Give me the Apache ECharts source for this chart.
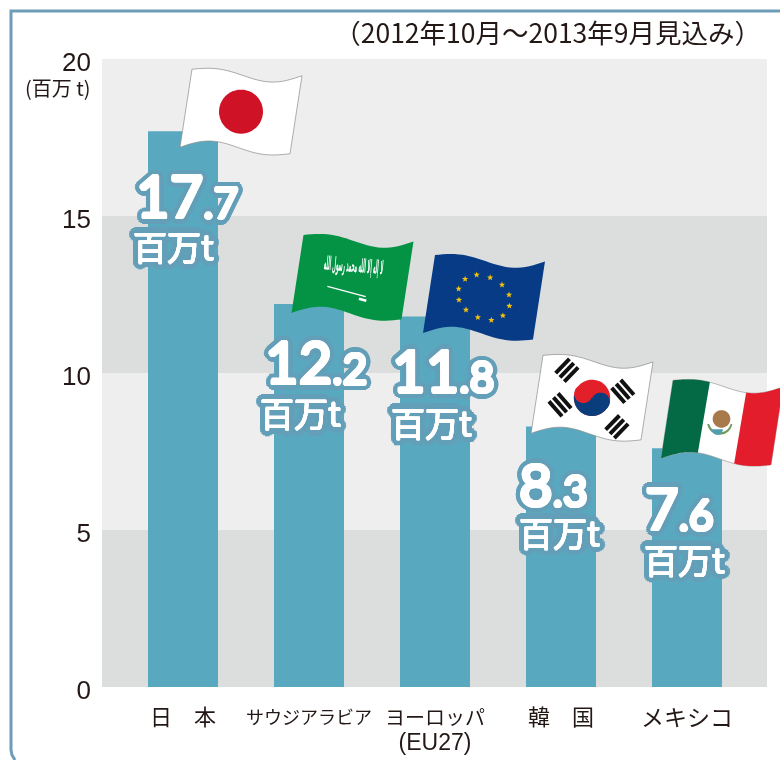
<!DOCTYPE html>
<html>
<head>
<meta charset="utf-8">
<style>
html, body { margin: 0; padding: 0; background: #fff; }
#main { width: 780px; height: 760px; }
</style>
</head>
<body>
<div id="main"></div>
<script src="https://cdn.jsdelivr.net/npm/echarts@6/dist/echarts.min.js"></script>
<script>
// data
var categories = ["日　本", "サウジアラビア", "ヨーロッパ\n(EU27)", "韓　国", "メキシコ"];
var values = [17.7, 12.2, 11.8, 8.3, 7.6];
var yTicks = [0, 5, 10, 15, 20];
var titleText = "（2012年10月～2013年9月見込み）";
var unitText = "(百万 t)";
var labelUnit = "百万t";

// layout, separate from the values
var flagOffsets = [[9, -62], [-5.5, -69], [0, -61.5], [-18, -71], [-14, -68]];
// number dx, number baseline dy, unit dx, unit baseline dy, from the bar's top-left corner
var labelOffsets = [[-12, 89, -15, 128], [-9, 82, -14, 122], [-8, 78, -9, 119], [-7, 82, -7, 119], [-7, 84, -8, 124]];
var categorySizes = [22, 18, 20, 22, 23];

var FONT_JP = '"Noto Sans CJK JP"';
var BAR = "#58a9bf";
var OUTLINE = "#639fb8";
var INK = "#231815";

var chart = echarts.init(document.getElementById("main"));

var categoryRich = { second: { fontSize: 23, fontFamily: "Liberation Sans", color: INK, lineHeight: 26 } };
categorySizes.forEach(function (s, i) {
  categoryRich["c" + i] = { fontSize: s, fontFamily: FONT_JP, color: INK, lineHeight: 28 };
});

var ruler = document.createElement("canvas").getContext("2d");
function textWidth(t, font) {
  ruler.font = font;
  return ruler.measureText(t).width;
}

// copies of a word around a circle, since text strokes cannot have round joins
function ring(text, x, y, font, r, color, out) {
  var n = r > 2 ? 18 : 10, i, a;
  for (i = 0; i < n; i++) {
    a = i * 2 * Math.PI / n;
    out.push({ type: "text", style: { text: text, x: x + r * Math.cos(a), y: y + r * Math.sin(a), font: font,
      fill: color, align: "left", verticalAlign: "middle" } });
  }
}

var option = {
  animation: false,
  title: [
    { text: titleText, right: 14, top: 15,
      textStyle: { fontSize: 26.5, fontWeight: "normal", fontFamily: FONT_JP, color: INK } },
    { text: unitText, left: 20, top: 73,
      textStyle: { fontSize: 20, fontWeight: "normal", fontFamily: FONT_JP, color: INK } }
  ],
  grid: [
    { left: 102, top: 59, width: 665, height: 628 },
    { left: 120, top: 59, width: 630, height: 628 }
  ],
  xAxis: [
    { gridIndex: 0, type: "value", show: false, min: 0, max: 1 },
    {
      gridIndex: 1,
      type: "category",
      data: categories,
      axisLine: { show: false },
      axisTick: { show: false },
      axisLabel: {
        margin: 16,
        interval: 0,
        rich: categoryRich,
        formatter: function (v) {
          var i = categories.indexOf(v);
          var rows = v.split("\n");
          var s = "{c" + i + "|" + rows[0] + "}";
          if (rows[1]) s += "\n{second|" + rows[1] + "}";
          return s;
        }
      }
    }
  ],
  yAxis: [
    {
      gridIndex: 0,
      type: "value",
      min: yTicks[0],
      max: yTicks[yTicks.length - 1],
      interval: yTicks[1] - yTicks[0],
      axisLine: { show: false },
      axisTick: { show: false },
      splitLine: { show: false },
      splitArea: { show: true, areaStyle: { color: ["#dcdedd", "#eeeeee"] } },
      axisLabel: {
        margin: 11,
        formatter: "{t|{value}}",
        rich: { t: { fontSize: 26, color: INK, fontFamily: "Liberation Sans", padding: [9, 0, 0, 0] } }
      }
    },
    {
      gridIndex: 1,
      type: "value",
      show: false,
      min: yTicks[0],
      max: yTicks[yTicks.length - 1]
    }
  ],
  series: [
    {
      type: "bar",
      xAxisIndex: 1,
      yAxisIndex: 1,
      barWidth: 70,
      itemStyle: { color: BAR },
      data: values
    },
    {
      type: "custom",
      xAxisIndex: 1,
      yAxisIndex: 1,
      z: 5,
      silent: true,
      data: values.map(function (v, i) { return [i, v]; }),
      renderItem: function (params, api) {
        var p = api.coord([api.value(0), api.value(1)]);
        var o = labelOffsets[params.dataIndex];
        var left = p[0] - 35;
        var parts = String(api.value(1)).split(".");
        var bigFont = "500 58px Lato";
        var smallFont = "500 43px Lato";
        var unitFont = "400 34px " + FONT_JP;
        var xBig = left + o[0];
        var xSmall = xBig + textWidth(parts[0], bigFont);
        var words = [
          [parts[0], xBig, p[1] + o[1] - 21, bigFont, 1.5],
          ["." + parts[1], xSmall, p[1] + o[1] - 15.5, smallFont, 1.5],
          [labelUnit, left + o[2], p[1] + o[3] - 12, unitFont, 0.5]
        ];
        var children = [];
        words.forEach(function (w) {
          ring(w[0], w[1], w[2], w[3], 6, OUTLINE, children);
          ring(w[0], w[1], w[2], w[3], 3, OUTLINE, children);
        });
        words.forEach(function (w) {
          ring(w[0], w[1], w[2], w[3], w[4], "#fff", children);
        });
        return { type: "group", children: children };
      }
    }
  ]
};
chart.setOption(option);

// flags: waving quads warped from unit coordinates
var EX = [110, 6.5], EY = [-12, 78];

function makeWarp(x0, y0) {
  return function (u, v) {
    var top = 4.4 * Math.sin(Math.PI * u) - 4.85 * Math.sin(2 * Math.PI * u);
    var bot = -4 * Math.sin(Math.PI * u) - 5 * Math.sin(2 * Math.PI * u);
    return [x0 + EX[0] * u + EY[0] * v, y0 + EX[1] * u + EY[1] * v + (1 - v) * top + v * bot];
  };
}

function quad(warp, u0, v0, u1, v1, fill, stroke, z) {
  var pts = [], n = 28, i;
  for (i = 0; i <= n; i++) pts.push(warp(u0 + (u1 - u0) * i / n, v0));
  for (i = 0; i <= n; i++) pts.push(warp(u1, v0 + (v1 - v0) * i / n));
  for (i = 0; i <= n; i++) pts.push(warp(u1 - (u1 - u0) * i / n, v1));
  for (i = 0; i <= n; i++) pts.push(warp(u0, v1 - (v1 - v0) * i / n));
  return { type: "polygon", z: z || 20, shape: { points: pts },
    style: { fill: fill, stroke: stroke || null, lineWidth: stroke ? 0.7 : 0 } };
}

// rigid shape placed at a flag point, its points in flag widths
function uvPoly(warp, cu, cv, pts, fill, z) {
  var c = warp(cu, cv);
  var mapped = pts.map(function (p) {
    return [c[0] + p[0] * EX[0], c[1] + p[1] * EX[0]];
  });
  return { type: "polygon", z: z || 21, shape: { points: mapped }, style: { fill: fill } };
}

function disc(warp, cu, cv, ru, a0, a1, fill, z) {
  var pts = [], n = 48, i, a;
  for (i = 0; i <= n; i++) {
    a = a0 + (a1 - a0) * i / n;
    pts.push([ru * Math.cos(a), ru * Math.sin(a)]);
  }
  return uvPoly(warp, cu, cv, pts, fill, z);
}

// rectangle turned by angle a around a flag point, pushed sideways by shift
function bar(warp, cu, cv, w, h, a, fill, z, shift) {
  var c = Math.cos(a), s = Math.sin(a), d = shift || 0;
  var pts = [[-w, d - h], [w, d - h], [w, d + h], [-w, d + h]].map(function (p) {
    return [p[0] * c - p[1] * s, p[0] * s + p[1] * c];
  });
  return uvPoly(warp, cu, cv, pts, fill, z);
}

function star(warp, cu, cv, r, fill) {
  var pts = [], i, a, rr;
  for (i = 0; i < 10; i++) {
    a = -Math.PI / 2 + i * Math.PI / 5;
    rr = i % 2 ? r * 0.42 : r;
    pts.push([rr * Math.cos(a), rr * Math.sin(a)]);
  }
  return uvPoly(warp, cu, cv, pts, fill, 22);
}

var flagDrawers = [
  function (w) { // Japan
    return [quad(w, 0, 0, 1, 1, "#fff", "#8a8a8a"), disc(w, 0.5, 0.5, 0.2, 0, Math.PI * 2, "#cf1225")];
  },
  function (w, p) { // Saudi Arabia
    return [
      quad(w, 0, 0, 1, 1, "#049345"),
      { type: "text", z: 22, rotation: -0.08, x: p[0] + 50, y: p[1] + 32, scaleX: 0.46, scaleY: 2.1,
        style: { text: "لا إله إلا الله محمد رسول الله", fontFamily: "DejaVu Sans", fontSize: 9, fontWeight: "bold",
          fill: "#fff", align: "center", verticalAlign: "middle" } },
      bar(w, 0.47, 0.72, 0.18, 0.006, 0.26, "#fff"),
      bar(w, 0.62, 0.76, 0.035, 0.012, 0.26, "#fff")
    ];
  },
  function (w) { // EU
    var els = [quad(w, 0, 0, 1, 1, "#083b86")], i, a;
    for (i = 0; i < 12; i++) {
      a = i * Math.PI / 6 + 0.1;
      els.push(star(w, 0.5 + 0.235 * Math.cos(a), 0.5 + 0.3 * Math.sin(a), 0.03, "#f4c20d"));
    }
    return els;
  },
  function (w) { // Korea
    var els = [
      quad(w, 0, 0, 1, 1, "#fff", "#8a8a8a"),
      disc(w, 0.5, 0.5, 0.165, Math.PI * 0.05, Math.PI * 2.05, "#e31f2a"),
      disc(w, 0.5, 0.5, 0.165, Math.PI * 0.05, Math.PI * 1.05, "#093d7b"),
      disc(w, 0.42, 0.485, 0.083, 0, Math.PI * 2, "#e31f2a", 22),
      disc(w, 0.58, 0.515, 0.083, 0, Math.PI * 2, "#093d7b", 22)
    ];
    [[0.24, 0.21, -0.8], [0.76, 0.32, 0.85], [0.23, 0.69, 0.85], [0.76, 0.81, -0.8]].forEach(function (t) {
      [-0.055, 0, 0.055].forEach(function (d) {
        els.push(bar(w, t[0], t[1], 0.09, 0.018, t[2], "#111", 21, d));
      });
    });
    return els;
  },
  function (w) { // Mexico
    return [
      quad(w, 0, 0, 1, 1, "#fff", "#9a9a9a"),
      quad(w, 0, 0, 0.335, 1, "#046a46"),
      quad(w, 0.665, 0, 1, 1, "#e31d2b"),
      disc(w, 0.48, 0.5, 0.115, Math.PI * 0.05, Math.PI * 0.95, "#6f9a5e"),
      disc(w, 0.48, 0.49, 0.1, 0, Math.PI * 2, "#fff", 22),
      disc(w, 0.49, 0.45, 0.08, 0, Math.PI * 2, "#a8794a", 23),
      disc(w, 0.47, 0.61, 0.05, 0, Math.PI, "#4f9fb0", 23)
    ];
  }
];

var graphics = [
  // frame around the panel
  { type: "polyline", z: 30,
    shape: { points: [[780, 11], [11, 11], [11, 750], [12, 755], [15, 760]] },
    style: { fill: null, stroke: "#6f9db8", lineWidth: 3 } }
];
values.forEach(function (v, i) {
  var p = chart.convertToPixel({ xAxisIndex: 1, yAxisIndex: 1 }, [i, v]);
  var tl = [p[0] + flagOffsets[i][0], p[1] + flagOffsets[i][1]];
  graphics = graphics.concat(flagDrawers[i](makeWarp(tl[0], tl[1]), tl));
});
chart.setOption({ graphic: graphics });
</script>
</body>
</html>
